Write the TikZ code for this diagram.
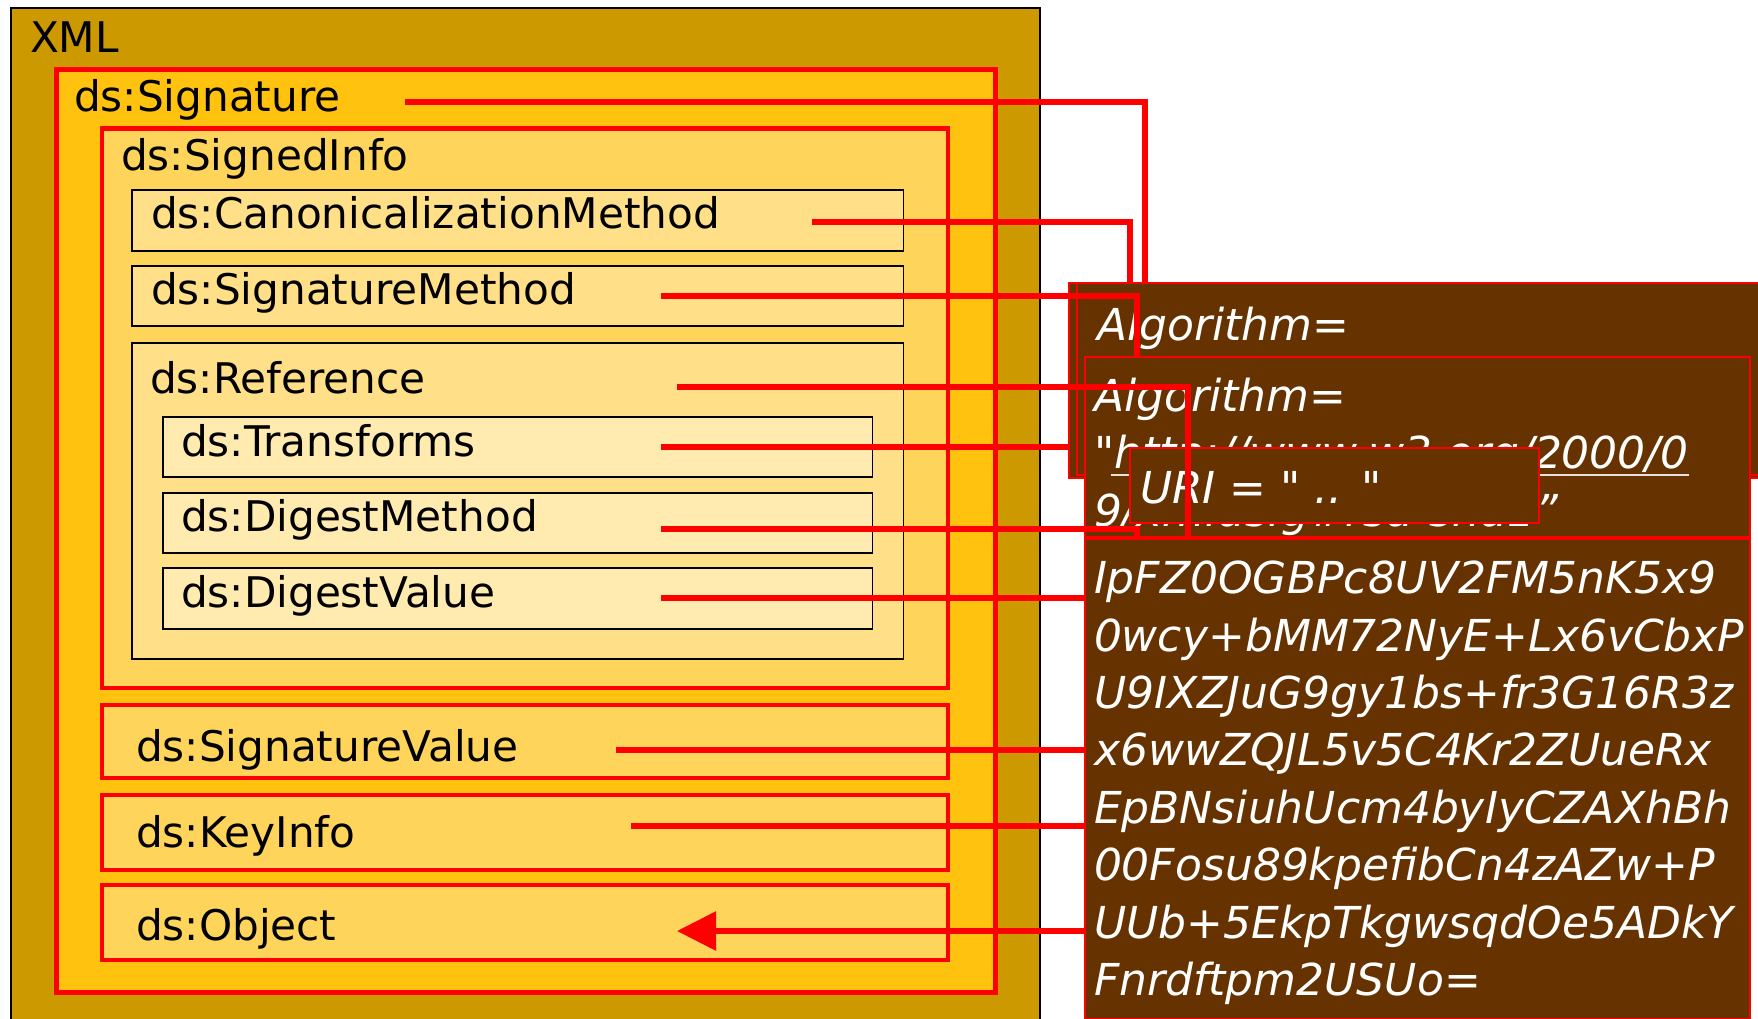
\documentclass[tikz,border=0pt]{standalone}
\usepackage{fontspec}
\setmainfont{DejaVu Sans}[Ligatures=TeXOff, ItalicFont={DejaVu Sans Oblique}]
\usetikzlibrary{arrows.meta}
\definecolor{xmlgold}{HTML}{CC9900}
\definecolor{siggold}{HTML}{FFC20E}
\definecolor{infogold}{HTML}{FFD45B}
\definecolor{elemgold}{HTML}{FFDF87}
\definecolor{subgold}{HTML}{FFEBAF}
\definecolor{darkbrown}{HTML}{663300}
\definecolor{linered}{HTML}{FF0000}
\begin{document}
\begin{tikzpicture}[x=1pt,y=-1pt,
  boxframe/.style={anchor=north west, inner sep=0pt, outer sep=0pt},
  redbox/.style={boxframe, draw=linered, line width=4.7pt},
  blackbox/.style={boxframe, draw=black, line width=1.8pt},
  brownbox/.style={boxframe, draw=linered, fill=darkbrown, line width=2pt},
  blabel/.style={anchor=base west, inner sep=0pt, outer sep=0pt, text=black, font=\fontsize{42.2}{50}\selectfont},
  wlabel/.style={anchor=base west, inner sep=0pt, outer sep=0pt, text=white, font=\fontsize{44}{57}\selectfont\itshape},
  conn/.style={draw=linered, line width=6pt, line join=miter},
  underl/.style={draw=white!85!darkbrown, line width=1.8pt}]
\useasboundingbox (0,0) rectangle (1758,1018);
\fill[white] (0,0) rectangle (1758,1018);
% ---- left: XML structure
\node[boxframe, draw=black, line width=1.5pt, fill=xmlgold, minimum width=1029pt, minimum height=1030pt] (xml) at (11,8) {};
\node[blabel] (xmlT) at (30,52) {XML};
\node[redbox, fill=siggold, line width=5pt, minimum width=939pt, minimum height=923pt] (sig) at (56,69) {};
\node[blabel] (sigT) at (74,111.5) {ds:Signature};
\node[redbox, fill=infogold, minimum width=846pt, minimum height=559.5pt] (si) at (102,128.5) {};
\node[blabel] (siT) at (121,170) {ds:SignedInfo};
\node[blackbox, fill=elemgold, minimum width=771.5pt, minimum height=60.7pt] (cm) at (132,190) {};
\node[blabel] (cmT) at (151,228) {ds:CanonicalizationMethod};
\node[blackbox, fill=elemgold, minimum width=771.5pt, minimum height=60.3pt] (sm) at (132,265.7) {};
\node[blabel] (smT) at (151,304) {ds:SignatureMethod};
\node[blackbox, fill=elemgold, minimum width=771.5pt, minimum height=316pt] (ref) at (132,343) {};
\node[blabel] (refT) at (150,393) {ds:Reference};
\node[blackbox, fill=subgold, minimum width=709.8pt, minimum height=60pt] (tr) at (162.6,417.3) {};
\node[blabel] (trT) at (181,456.7) {ds:Transforms};
\node[blackbox, fill=subgold, minimum width=709.8pt, minimum height=60pt] (dm) at (162.6,492.7) {};
\node[blabel] (dmT) at (181,531.7) {ds:DigestMethod};
\node[blackbox, fill=subgold, minimum width=709.8pt, minimum height=61pt] (dv) at (162.6,568) {};
\node[blabel] (dvT) at (181,607) {ds:DigestValue};
\node[redbox, fill=infogold, minimum width=846pt, minimum height=73pt] (sv) at (102,705) {};
\node[blabel] (svT) at (136,761) {ds:SignatureValue};
\node[redbox, fill=infogold, minimum width=846pt, minimum height=75pt] (ki) at (102,795) {};
\node[blabel] (kiT) at (136,847.5) {ds:KeyInfo};
\node[redbox, fill=infogold, minimum width=846pt, minimum height=75pt] (ob) at (102,885) {};
\node[blabel] (obT) at (136,940) {ds:Object};
% ---- right: values
\node[brownbox, minimum width=695pt, minimum height=195pt] (a1) at (1069,283) {};
\node[brownbox, minimum width=687pt, minimum height=192pt] (a2) at (1077,283) {};
\node[wlabel] (a2T) at (1097,340) {Algorithm=};
\node[brownbox, minimum width=665.5pt, minimum height=180pt] (b) at (1084.5,357) {};
\node[wlabel] (b1) at (1094,411.5) {Algorithm=};
\node[wlabel] (b2) at (1094,468) {"http://www.w3.org/2000/0};
\node[wlabel] (b3) at (1094,526) {9/xmldsig\#rsa-sha1”};
\draw[underl] ([xshift=17pt,yshift=-7pt]b2.base west) -- ([yshift=-7pt]b2.base east);
\node[brownbox, minimum width=665pt, minimum height=480pt] (c) at (1085,539) {};
\node[wlabel] (c1) at (1094,593.5) {IpFZ0OGBPc8UV2FM5nK5x9};
\node[wlabel] (c2) at (1094,651) {0wcy+bMM72NyE+Lx6vCbxP};
\node[wlabel] (c3) at (1094,708.3) {U9IXZJuG9gy1bs+fr3G16R3z};
\node[wlabel] (c4) at (1094,765.7) {x6wwZQJL5v5C4Kr2ZUueRx};
\node[wlabel] (c5) at (1094,823) {EpBNsiuhUcm4byIyCZAXhBh};
\node[wlabel] (c6) at (1094,880.5) {00Fosu89kpefibCn4zAZw+P};
\node[wlabel] (c7) at (1094,938) {UUb+5EkpTkgwsqdOe5ADkY};
\node[wlabel] (c8) at (1094,995.5) {Fnrdftpm2USUo=};
\node[brownbox, minimum width=409pt, minimum height=75pt] (uri) at (1130,448) {};
\node[wlabel] (uriT) at (1140,503) {URI = " .. "};
% ---- connectors
\coordinate (sigS) at (405,101.5);
\coordinate (cmS) at (812,221.5);
\coordinate (smS) at (661,295.5);
\coordinate (refS) at (677,387);
\coordinate (trS) at (661,447);
\coordinate (dmS) at (661,528.5);
\coordinate (dvS) at (661,598);
\coordinate (svS) at (616,750);
\coordinate (kiS) at (631,826);
\coordinate (obT) at (677,931);
\draw[conn] (sigS) -| ([xshift=76pt]a1.north west);
\draw[conn] (cmS) -| ([xshift=61pt]a1.north west);
\draw[conn] (smS) -| ([xshift=52.5pt]b.north west);
\draw[conn] (refS) -| ([xshift=103.5pt]b.south west);
\draw[conn] (trS) -- (trS -| a1.west);
\draw[conn] (dmS) -| ([xshift=52.5pt]b.south west);
\draw[conn] (dvS) -- (dvS -| c.west);
\draw[conn] (svS) -- (svS -| c.west);
\draw[conn] (kiS) -- (kiS -| c.west);
\draw[conn, -{Triangle[length=39pt,width=38pt]}] (obT -| c.west) -- (obT);
\end{tikzpicture}
\end{document}
